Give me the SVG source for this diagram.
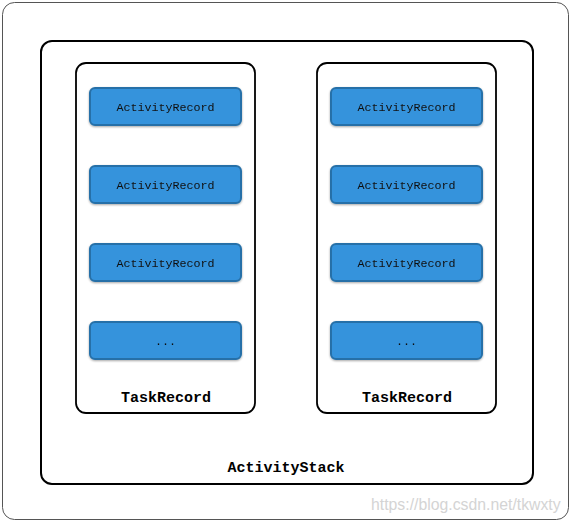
<svg xmlns="http://www.w3.org/2000/svg" width="571" height="522" viewBox="0 0 571 522">
<style>
.frame{fill:#fff;stroke:#555;stroke-width:1}
.stack{fill:none;stroke:#000;stroke-width:2}
.task{fill:#fff;stroke:#000;stroke-width:1.8}
.rec{fill:#3593dc;stroke:#2670a8;stroke-width:2}
.rt{font-family:"Liberation Mono",monospace;font-size:11.7px;fill:#111;text-anchor:middle}
.lbl{font-family:"Liberation Mono",monospace;font-size:15px;font-weight:bold;fill:#000;text-anchor:middle}
.wm{font-family:"Liberation Sans",Arial,sans-serif;font-size:15.8px;fill:#d4d4d4}
</style>
<defs>
<filter id="sh" x="-10%" y="-20%" width="120%" height="140%">
<feGaussianBlur in="SourceAlpha" stdDeviation="1.2"/>
<feOffset dx="0" dy="1"/>
<feComponentTransfer><feFuncA type="linear" slope="0.35"/></feComponentTransfer>
<feMerge><feMergeNode/><feMergeNode in="SourceGraphic"/></feMerge>
</filter>
</defs>
<rect class="frame" x="2.5" y="2.5" width="566" height="517" rx="12"/>
<g id="ActivityStack">
<rect class="stack" x="41" y="41" width="492" height="443" rx="11"/>
<text class="lbl" x="286" y="472">ActivityStack</text>
</g>
<g id="TaskRecord1">
<rect class="task" x="76" y="63" width="179" height="350" rx="10"/>
<text class="lbl" x="166" y="402">TaskRecord</text>
</g>
<g id="TaskRecord2">
<rect class="task" x="317" y="63" width="179" height="350" rx="10"/>
<text class="lbl" x="407" y="402">TaskRecord</text>
</g>
<g id="AR1a" filter="url(#sh)"><rect class="rec" x="90" y="88" width="151" height="37" rx="5"/><text class="rt" x="165.5" y="110.5">ActivityRecord</text></g>
<g id="AR1b" filter="url(#sh)"><rect class="rec" x="90" y="166" width="151" height="37" rx="5"/><text class="rt" x="165.5" y="188.5">ActivityRecord</text></g>
<g id="AR1c" filter="url(#sh)"><rect class="rec" x="90" y="244" width="151" height="37" rx="5"/><text class="rt" x="165.5" y="266.5">ActivityRecord</text></g>
<g id="AR1d" filter="url(#sh)"><rect class="rec" x="90" y="322" width="151" height="37" rx="5"/><text class="rt" x="165.5" y="344.5">...</text></g>
<g id="AR2a" filter="url(#sh)"><rect class="rec" x="331" y="88" width="151" height="37" rx="5"/><text class="rt" x="406.5" y="110.5">ActivityRecord</text></g>
<g id="AR2b" filter="url(#sh)"><rect class="rec" x="331" y="166" width="151" height="37" rx="5"/><text class="rt" x="406.5" y="188.5">ActivityRecord</text></g>
<g id="AR2c" filter="url(#sh)"><rect class="rec" x="331" y="244" width="151" height="37" rx="5"/><text class="rt" x="406.5" y="266.5">ActivityRecord</text></g>
<g id="AR2d" filter="url(#sh)"><rect class="rec" x="331" y="322" width="151" height="37" rx="5"/><text class="rt" x="406.5" y="344.5">...</text></g>
<g id="connectors"></g>
<text class="wm" x="371" y="510">https://blog.csdn.net/tkwxty</text>
</svg>
